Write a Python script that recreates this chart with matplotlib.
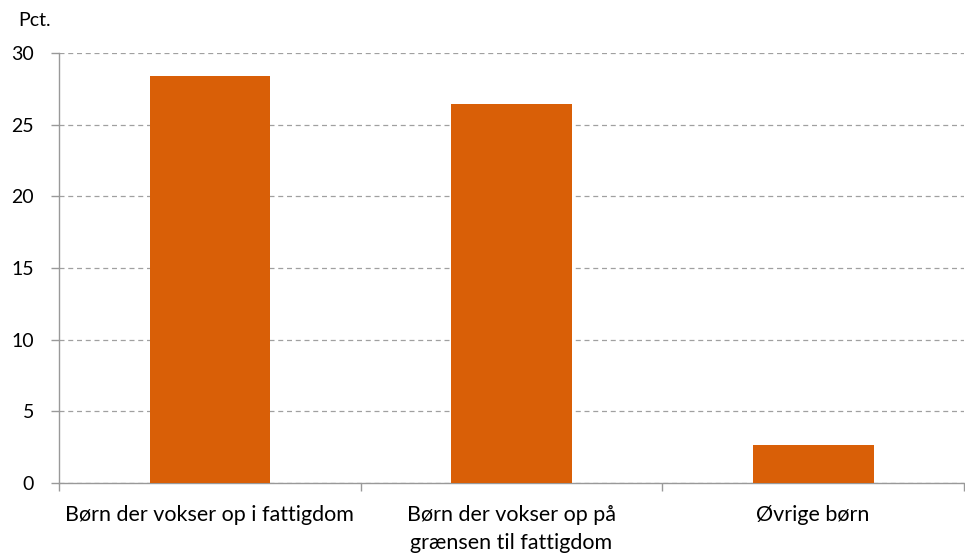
import numpy as np
import matplotlib.pyplot as plt
from matplotlib.ticker import FixedLocator

plt.rcParams['font.family'] = ['Lato', 'DejaVu Sans']

categories = ["Børn der vokser op i fattigdom",
              "Børn der vokser op på\ngrænsen til fattigdom",
              "Øvrige børn"]
values = [28.4, 26.45, 2.65]
yticks = [0, 5, 10, 15, 20, 25, 30]

fig = plt.figure(figsize=(9.65, 5.56), dpi=100)
ax = fig.add_axes([59/965, 1 - 483/556, 905/965, 430/556])

x = np.arange(len(categories))
ax.bar(x, values, width=0.4, color="#D95F07", zorder=3)

ax.set_xlim(-0.5, len(categories) - 0.5)
ax.set_ylim(0, 30)
ax.set_yticks(yticks)
ax.set_yticklabels([str(t) for t in yticks], fontsize=14)
ax.yaxis.grid(True, linestyle=(0, (4, 3)), color="#a0a0a0", linewidth=0.9, zorder=0)

ax.set_xticks(x)
ax.set_xticklabels(categories, fontsize=15.5, linespacing=1.5)
ax.xaxis.set_minor_locator(FixedLocator(np.arange(-0.5, len(categories), 1.0)))
ax.tick_params(axis='x', which='major', length=0, pad=16)
ax.tick_params(axis='x', which='minor', length=6, color="#999999", width=1)
ax.tick_params(axis='y', length=6, color="#999999", width=1, pad=12)

for s in ['top', 'right']:
    ax.spines[s].set_visible(False)
for s in ['left', 'bottom']:
    ax.spines[s].set_color("#999999")
    ax.spines[s].set_linewidth(1)

fig.text(18/965, 1 - 20/556, "Pct.", fontsize=14, va='center', ha='left')

fig.savefig("out.png", dpi=100)
